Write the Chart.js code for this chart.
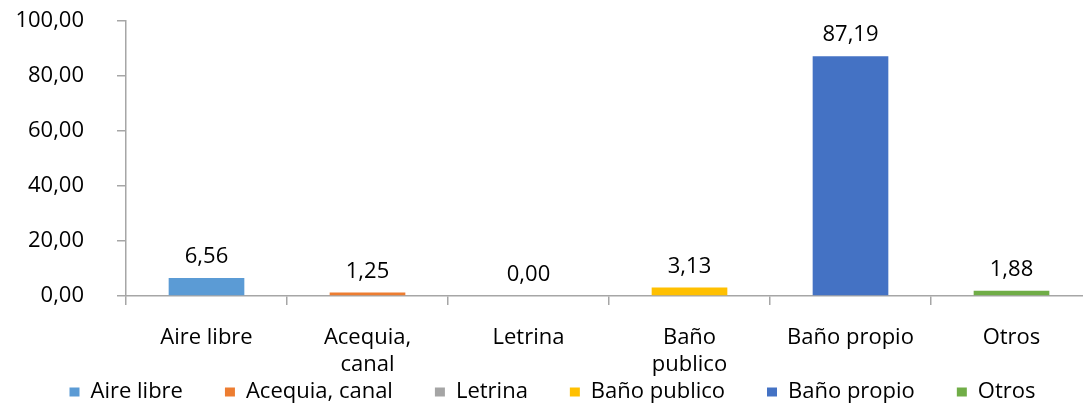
<!DOCTYPE html>
<html>
<head>
<meta charset="utf-8">
<script src="https://cdn.jsdelivr.net/npm/chart.js@4/dist/chart.umd.min.js"></script>
<style>
  html, body { margin: 0; padding: 0; background: #fff; overflow: hidden; }
  #wrap { width: 1100px; height: 455px; }
</style>
</head>
<body>
<div id="wrap"><canvas id="chart"></canvas></div>
<script>
// categories on the x axis (multi-line where the label wraps)
const categories = [['Aire libre'], ['Acequia,', 'canal'], ['Letrina'], ['Baño', 'publico'], ['Baño propio'], ['Otros']];
const seriesNames = ['Aire libre', 'Acequia, canal', 'Letrina', 'Baño publico', 'Baño propio', 'Otros'];
const values = [6.56, 1.25, 0.00, 3.13, 87.19, 1.88];
const colors = ['#5B9BD5', '#ED7D31', '#A5A5A5', '#FFC000', '#4472C4', '#70AD47'];
const yTicks = [0, 20, 40, 60, 80, 100];

const FONT = '"Open Sans", "Liberation Sans", sans-serif';
const SIZE = 22;
const LEGEND_PAD = 42;
const LEGEND_MID = 392; // vertical centre of the legend row
const fmt = v => v.toFixed(2).replace('.', ',');

// one dataset per series, each only filled at its own category
const datasets = seriesNames.map((name, i) => ({
  label: name,
  data: values.map((v, j) => (j === i ? v : null)),
  backgroundColor: colors[i],
  borderWidth: 0,
  barPercentage: 0.47,
  categoryPercentage: 1
}));

// value labels above each bar
const valueLabels = {
  id: 'valueLabels',
  afterDatasetsDraw(chart) {
    const ctx = chart.ctx;
    ctx.save();
    ctx.font = SIZE + 'px ' + FONT;
    ctx.fillStyle = '#000';
    ctx.textAlign = 'center';
    ctx.textBaseline = 'middle';
    chart.data.datasets.forEach((ds, i) => {
      const bar = chart.getDatasetMeta(i).data[i];
      ctx.fillText(fmt(ds.data[i]), bar.x, bar.y - 21);
    });
    ctx.restore();
  }
};

// pull the legend up so it sits just under the wrapped category labels
const legendUp = {
  id: 'legendUp',
  afterLayout(chart) {
    const lg = chart.legend;
    const dy = (LEGEND_MID - LEGEND_PAD - SIZE / 2) - lg.top;
    lg.top += dy;
    lg.bottom += dy;
  }
};

new Chart(document.getElementById('chart').getContext('2d'), {
  type: 'bar',
  data: { labels: categories, datasets },
  plugins: [valueLabels, legendUp],
  options: {
    responsive: true,
    maintainAspectRatio: false,
    animation: false,
    layout: { padding: { top: 21, right: 8, left: 13, bottom: 0 } },
    plugins: {
      tooltip: { enabled: false },
      legend: {
        position: 'bottom',
        labels: {
          color: '#000',
          font: { family: FONT, size: SIZE },
          boxWidth: 10,
          boxHeight: 9,
          padding: LEGEND_PAD
        }
      }
    },
    scales: {
      x: {
        stacked: true,
        afterFit: s => { s.height = 85; },
        border: { color: '#A6A6A6', width: 1.5 },
        grid: { drawOnChartArea: false, color: '#A6A6A6', tickLength: 9, lineWidth: 1.5 },
        ticks: { color: '#000', font: { family: FONT, size: SIZE }, padding: 20, maxRotation: 0, autoSkip: false }
      },
      y: {
        stacked: true,
        min: 0,
        max: 100,
        afterFit: s => { s.width = 113; s.paddingTop = 0; s.paddingBottom = 0; },
        afterBuildTicks: s => { s.ticks = yTicks.map(v => ({ value: v })); },
        border: { color: '#A6A6A6', width: 1.5 },
        grid: { drawOnChartArea: false, color: '#A6A6A6', tickLength: 9, lineWidth: 1.5 },
        ticks: { color: '#000', font: { family: FONT, size: SIZE }, padding: 33, callback: v => fmt(v) }
      }
    }
  }
});
</script>
</body>
</html>
